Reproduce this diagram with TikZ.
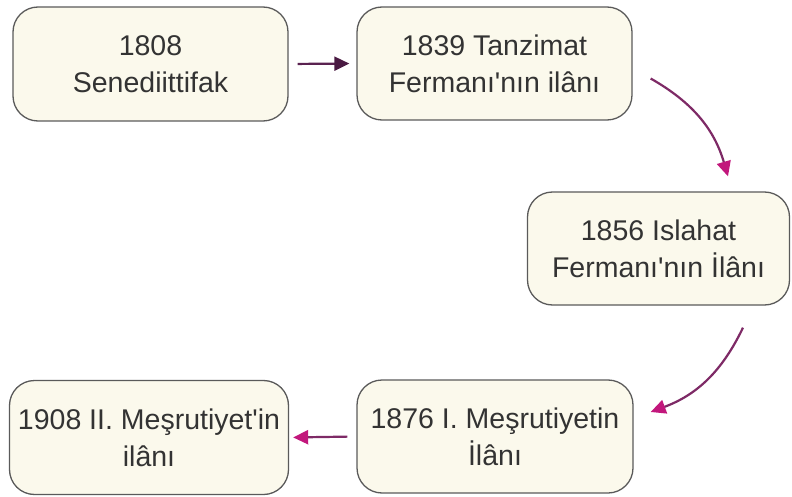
\documentclass[tikz,border=0pt]{standalone}
\usepackage{fontspec}
\setmainfont{Liberation Sans}
\usetikzlibrary{arrows.meta}
\definecolor{boxfill}{HTML}{FBF9EC}
\definecolor{boxdraw}{HTML}{5A5A5A}
\definecolor{txt}{HTML}{333333}
\definecolor{shaft}{HTML}{7E2A66}
\definecolor{shaftdark}{HTML}{5A2250}
\definecolor{tipmag}{HTML}{C2177C}
\definecolor{tipdark}{HTML}{4A1A42}
\tikzset{
  eventbox/.style={draw=boxdraw, line width=1.3pt, fill=boxfill, rounded corners=25pt,
    align=center, text=txt, font=\fontsize{28.5}{37}\selectfont, inner sep=0pt},
  flowarrow/.style={draw=shaft, line width=2.2pt, -{Triangle[length=15pt,width=14pt,color=tipmag]}},
  flowarrowdark/.style={draw=shaftdark, line width=2.2pt, -{Triangle[length=15pt,width=14pt,color=tipdark]}}
}
\begin{document}
\begin{tikzpicture}[x=1pt,y=-1pt]
\useasboundingbox (0,0) rectangle (792,497);
\node[eventbox, minimum width=275pt, minimum height=114pt] (b1) at (150.5,64) {1808\\Senediittifak};
\node[eventbox, minimum width=275pt, minimum height=113pt] (b2) at (494.5,63.5) {1839 Tanzimat\\Fermanı\textquotesingle nın ilânı};
\node[eventbox, minimum width=262pt, minimum height=113pt] (b3) at (658.5,248.5) {1856 Islahat\\Fermanı\textquotesingle nın İlânı};
\node[eventbox, minimum width=276pt, minimum height=113pt] (b4) at (495,436.5) {1876 I. Meşrutiyetin\\İlânı};
\node[eventbox, minimum width=279pt, minimum height=114pt] (b5) at (149,437.5) {1908 II. Meşrutiyet\textquotesingle in\\ilânı};
\coordinate (a2s) at ([shift={(18,15)}]b2.east);
\coordinate (a2e) at ([shift={(69.5,-15)}]b3.north);
\coordinate (a3s) at ([shift={(84.5,22)}]b3.south);
\coordinate (a3e) at ([shift={(17,-24.5)}]b4.east);
\draw[flowarrowdark, shorten <=9pt, shorten >=7pt] (b1.east) -- (b2.west);
\draw[flowarrow] (a2s) to[bend left=22] (a2e);
\draw[flowarrow] (a3s) to[bend left=22] (a3e);
\draw[flowarrow, shorten <=9pt, shorten >=4pt] (b4.west) -- (b5.east);
\end{tikzpicture}
\end{document}
